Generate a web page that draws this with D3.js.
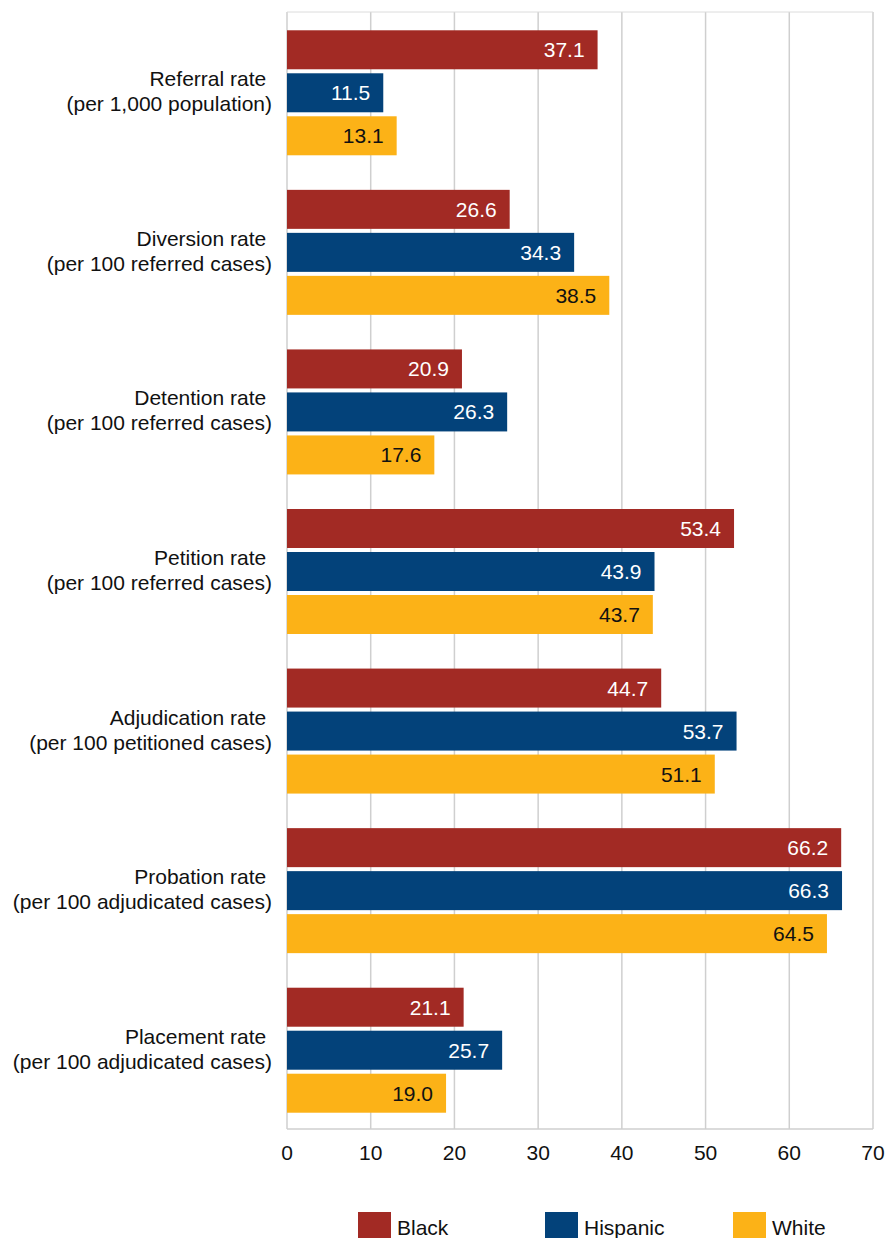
<!DOCTYPE html>
<html><head><meta charset="utf-8">
<script src="https://cdn.jsdelivr.net/npm/d3@7"></script>
<style>body{margin:0;background:#fff}svg{display:block;font-family:"Liberation Sans",Arial,Helvetica,sans-serif}</style>
</head><body><svg id="c" width="885" height="1238"></svg>
<script>
const categories = [
  ["Referral rate ", "(per 1,000 population)"],
  ["Diversion rate ", "(per 100 referred cases)"],
  ["Detention rate ", "(per 100 referred cases)"],
  ["Petition rate ", "(per 100 referred cases)"],
  ["Adjudication rate ", "(per 100 petitioned cases)"],
  ["Probation rate ", "(per 100 adjudicated cases)"],
  ["Placement rate ", "(per 100 adjudicated cases)"]
];
const seriesNames = ["Black", "Hispanic", "White"];
const black = [37.1, 26.6, 20.9, 53.4, 44.7, 66.2, 21.1];
const hispanic = [11.5, 34.3, 26.3, 43.9, 53.7, 66.3, 25.7];
const white = [13.1, 38.5, 17.6, 43.7, 51.1, 64.5, 19.0];
const xTicks = [0, 10, 20, 30, 40, 50, 60, 70];
const colors = ["#A22A24", "#03427A", "#FCB217"];
const labelColors = ["#fff", "#fff", "#111"];

const series = [black, hispanic, white];
const svg = d3.select("#c");
const L = 287, R = 873, T = 12, B = 1129;
const FS = 21;
const x = d3.scaleLinear().domain([0, 70]).range([L, R]);
const y = d3.scaleBand().domain(d3.range(categories.length)).range([T, B]);
const barH = 39, gap = 4;
const groupH = 3 * barH + 2 * gap;

// grid
svg.append("g").selectAll("line").data(xTicks).join("line")
  .attr("x1", d => x(d)).attr("x2", d => x(d)).attr("y1", T).attr("y2", B)
  .attr("stroke", "#cfcfcf").attr("stroke-width", 1.5);
svg.append("line").attr("x1", L).attr("x2", R).attr("y1", T).attr("y2", T).attr("stroke", "#dcdcdc").attr("stroke-width", 1);
svg.append("line").attr("x1", L).attr("x2", R).attr("y1", B).attr("y2", B).attr("stroke", "#cfcfcf").attr("stroke-width", 1.5);

// bars
series.forEach((vals, s) => {
  const g = svg.append("g");
  vals.forEach((v, i) => {
    const y0 = y(i) + (y.bandwidth() - groupH) / 2 + 1 + s * (barH + gap);
    g.append("rect").attr("x", x(0)).attr("y", y0).attr("width", x(v) - x(0)).attr("height", barH).attr("fill", colors[s]);
    g.append("text").attr("x", x(v) - 13).attr("y", y0 + barH / 2).attr("dy", "0.36em")
      .attr("text-anchor", "end").attr("font-size", FS).attr("fill", labelColors[s]).text(v.toFixed(1));
  });
});

// category labels
categories.forEach((lines, i) => {
  const cy = y(i) + y.bandwidth() / 2;
  const t = svg.append("text").attr("text-anchor", "end").attr("font-size", FS).attr("fill", "#111")
    .style("white-space", "pre");
  lines.forEach((ln, k) => {
    t.append("tspan").attr("x", 272).attr("y", cy + (k === 0 ? -13 : 12)).attr("dy", "0.36em").text(ln);
  });
});

// x axis labels
svg.append("g").selectAll("text").data(xTicks).join("text")
  .attr("x", d => x(d)).attr("y", 1160).attr("text-anchor", "middle").attr("font-size", FS).attr("fill", "#111")
  .text(d => d);

// legend
const legX = [358, 545, 733];
seriesNames.forEach((n, s) => {
  svg.append("rect").attr("x", legX[s]).attr("y", 1212).attr("width", 33).attr("height", 30).attr("fill", colors[s]);
  svg.append("text").attr("x", legX[s] + 39).attr("y", 1235).attr("font-size", FS).attr("fill", "#111").text(n);
});
</script></body></html>
